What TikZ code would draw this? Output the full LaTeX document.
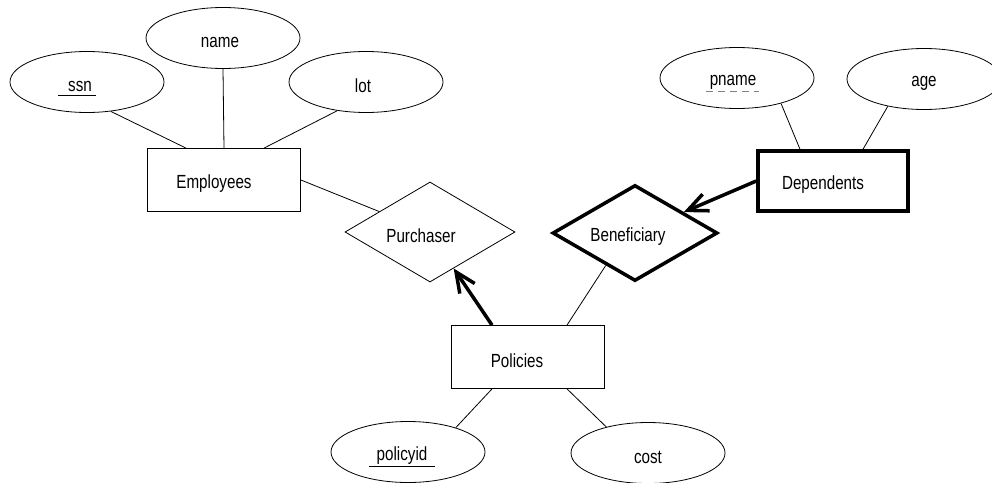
\documentclass[tikz,border=0pt]{standalone}
\usepackage{fontspec}
\setmainfont{Liberation Sans}[FakeStretch=0.8]
\usetikzlibrary{shapes.geometric,arrows.meta}
\newcommand{\mvl}[2]{\hspace*{-#1pt}\raisebox{-4pt}[\height][\depth]{#2}}
\begin{document}
\begin{tikzpicture}[x=1pt,y=-1pt,
  every node/.style={font=\fontsize{19}{22}\selectfont},
  attr/.style={draw,ellipse,minimum width=154pt,minimum height=61pt,inner sep=0pt,line width=0.8pt},
  ent/.style={draw,rectangle,minimum width=153pt,minimum height=63pt,inner sep=0pt,line width=0.8pt},
  weakent/.style={draw,rectangle,minimum width=150pt,minimum height=60pt,inner sep=0pt,line width=3.5pt},
  rel/.style={draw,diamond,minimum width=170pt,minimum height=100pt,inner sep=0pt,aspect=1.7,line width=0.8pt},
  idrel/.style={draw,diamond,minimum width=165pt,minimum height=96pt,inner sep=0pt,aspect=1.7,line width=3.5pt},
  link/.style={line width=0.8pt},
  heavy/.style={line width=3.5pt,-{Straight Barb[length=20pt,width=18pt]}},
  keyline/.style={line width=0.8pt},
  partialkey/.style={line width=0.8pt,gray,dash pattern=on 7pt off 5pt},
]
\path[use as bounding box] (0,0) rectangle (992,482);

\node[attr] (ssn) at (87,82) {\mvl{14}{ssn}};
\node[attr] (name) at (223,38) {\mvl{6}{name}};
\node[attr] (lot) at (366,82) {\mvl{6}{lot}};
\node[ent] (emp) at (224,180) {\mvl{20}{Employees}};
\node[rel] (purch) at (430,232) {\mvl{18}{Purchaser}};
\node[idrel] (ben) at (635,233) {\mvl{14}{Beneficiary}};
\node[weakent] (dep) at (833,181) {\mvl{20}{Dependents}};
\node[attr] (pname) at (737,78) {\mvl{8}{pname}};
\node[attr] (age) at (924,79) {\mvl{0}{age}};
\node[ent] (pol) at (528,357) {\mvl{22}{Policies}};
\node[attr] (pid) at (408,452) {\mvl{12}{policyid}};
\node[attr] (cost) at (648,453) {\mvl{0}{cost}};

\draw[keyline] ([shift={(-29,13)}]ssn.center) -- ([shift={(9,13)}]ssn.center);
\draw[partialkey] ([shift={(-31,13)}]pname.center) -- ([shift={(22,13)}]pname.center);
\draw[keyline] ([shift={(-39,14)}]pid.center) -- ([shift={(27,14)}]pid.center);

\draw[link] (ssn.-51) -- ([xshift=-38pt]emp.north);
\draw[link] (name.south) -- (emp.north);
\draw[link] (lot.-135) -- ([xshift=40pt]emp.north);
\draw[link] (emp.east) -- (purch);
\draw[heavy] ([xshift=-36pt]pol.north) -- (purch.-57);
\draw[link] ([xshift=39pt]pol.north) -- (ben.-132);
\draw[heavy] (dep.west) -- (ben);
\draw[link] (pname.-30) -- ([xshift=-33pt]dep.north);
\draw[link] (age.217) -- ([xshift=30pt]dep.north);
\draw[link] (pid.27) -- ([xshift=-36pt]pol.south);
\draw[link] (cost.148) -- ([xshift=39pt]pol.south);
\end{tikzpicture}
\end{document}
